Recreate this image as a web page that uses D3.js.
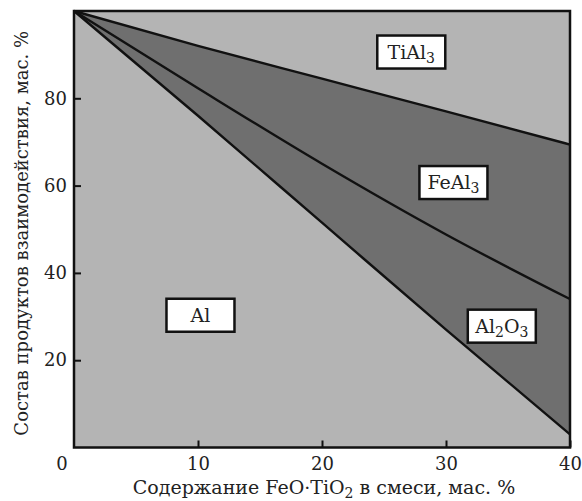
<!DOCTYPE html>
<meta charset="utf-8">
<style>
body { margin: 0; background: #fff; }
text { font-family: "DejaVu Serif", "Liberation Serif", serif; fill: #222; }
.line { fill: none; stroke: #111; stroke-width: 2.4px; }
</style>
<svg width="582" height="501"></svg>
<script src="https://cdn.jsdelivr.net/npm/d3@7"></script>
<script>

// FeO·TiO2 content, wt. %
var xs = [0, 10, 20, 30, 40];
// boundary curves (cumulative composition, wt. %)
var alTop    = [100, 76, 51.5, 27, 3];      // Al / Al2O3
var al2o3Top = [100, 82.3, 65, 48.8, 34];   // Al2O3 / FeAl3
var feal3Top = [100, 92, 84.5, 77, 69.4];   // FeAl3 / TiAl3

var xTicks = [10, 20, 30, 40];
var yTicks = [20, 40, 60, 80];

var labels = [
  {name: "TiAl", sub: "3", x: 27.2, y: 90.6},
  {name: "FeAl", sub: "3", x: 30.6, y: 60.7},
  {name: "Al", sub: "2", tail: "O", sub2: "3", x: 34.5, y: 27.8},
  {name: "Al", x: 10.2, y: 30.3}
];

var svg = d3.select("svg"),
    margin = {top: 11, right: 12, bottom: 53.5, left: 74},
    width = svg.attr("width") - margin.left - margin.right,
    height = svg.attr("height") - margin.top - margin.bottom,
    g = svg.append("g").attr("transform", "translate(" + margin.left + "," + margin.top + ")");

var x = d3.scaleLinear().domain([0, 40]).range([0, width]),
    y = d3.scaleLinear().domain([0, 100]).range([height, 0]);

function pts(arr) { return xs.map(function(v, i) { return [v, arr[i]]; }); }

g.append("rect")
    .attr("width", width)
    .attr("height", height)
    .attr("fill", "#b4b4b4");

var area = d3.area()
    .curve(d3.curveMonotoneX)
    .x(function(d) { return x(d[0]); })
    .y0(function(d) { return y(d[1]); })
    .y1(function(d) { return y(d[2]); });

g.append("path")
    .attr("fill", "#6f6f6f")
    .attr("d", area(xs.map(function(v, i) { return [v, alTop[i], feal3Top[i]]; })));

var line = d3.line()
    .curve(d3.curveMonotoneX)
    .x(function(d) { return x(d[0]); })
    .y(function(d) { return y(d[1]); });

[alTop, al2o3Top, feal3Top].forEach(function(s) {
  g.append("path").attr("class", "line").attr("d", line(pts(s)));
});

// axes with inward ticks
var xAxis = g.append("g")
    .attr("transform", "translate(0," + height + ")")
    .call(d3.axisBottom(x).tickValues(xTicks).tickSizeInner(-7).tickSizeOuter(0).tickPadding(10));
var yAxis = g.append("g")
    .call(d3.axisLeft(y).tickValues(yTicks).tickSizeInner(-7).tickSizeOuter(0).tickPadding(7));

[xAxis, yAxis].forEach(function(a) {
  a.select(".domain").remove();
  a.selectAll(".tick line").attr("stroke", "#111").attr("stroke-width", 2);
  a.selectAll(".tick text")
      .attr("fill", "#333")
      .style("font-family", "'DejaVu Serif', serif")
      .style("font-size", "18px");
});
xAxis.selectAll(".tick text").attr("dy", "0.71em");

g.append("text")
    .attr("x", x(0) - 12)
    .attr("y", height + 10)
    .attr("dy", "0.71em")
    .attr("text-anchor", "middle")
    .attr("fill", "#333")
    .style("font-size", "18px")
    .text("0");

g.append("rect")
    .attr("width", width)
    .attr("height", height)
    .attr("fill", "none")
    .attr("stroke", "#111")
    .attr("stroke-width", 2.5);

// region labels
labels.forEach(function(d) {
  var lg = g.append("g").attr("transform", "translate(" + x(d.x) + "," + y(d.y) + ")");
  lg.append("rect")
      .attr("x", -34).attr("y", -16.5)
      .attr("width", 68).attr("height", 33)
      .attr("fill", "#fff")
      .attr("stroke", "#111")
      .attr("stroke-width", 2.5);
  var t = lg.append("text")
      .attr("text-anchor", "middle")
      .attr("dy", "0.35em")
      .style("font-size", "19px");
  t.append("tspan").text(d.name);
  if (d.sub) t.append("tspan").attr("dy", 4).style("font-size", "14px").text(d.sub);
  if (d.tail) t.append("tspan").attr("dy", -4).text(d.tail);
  if (d.sub2) t.append("tspan").attr("dy", 4).style("font-size", "14px").text(d.sub2);
});

// axis titles
var xt = svg.append("text")
    .attr("x", 324)
    .attr("y", 494)
    .attr("text-anchor", "middle")
    .style("font-size", "19px");
xt.append("tspan").text("Содержание FeO·TiO");
xt.append("tspan").attr("dy", 4).style("font-size", "14px").text("2");
xt.append("tspan").attr("dy", -4).text(" в смеси, мас. %");

svg.append("text")
    .attr("transform", "translate(28," + (margin.top + height / 2 + 4) + ") rotate(-90)")
    .attr("text-anchor", "middle")
    .style("font-size", "18px")
    .text("Состав продуктов взаимодействия, мас. %");

</script>
